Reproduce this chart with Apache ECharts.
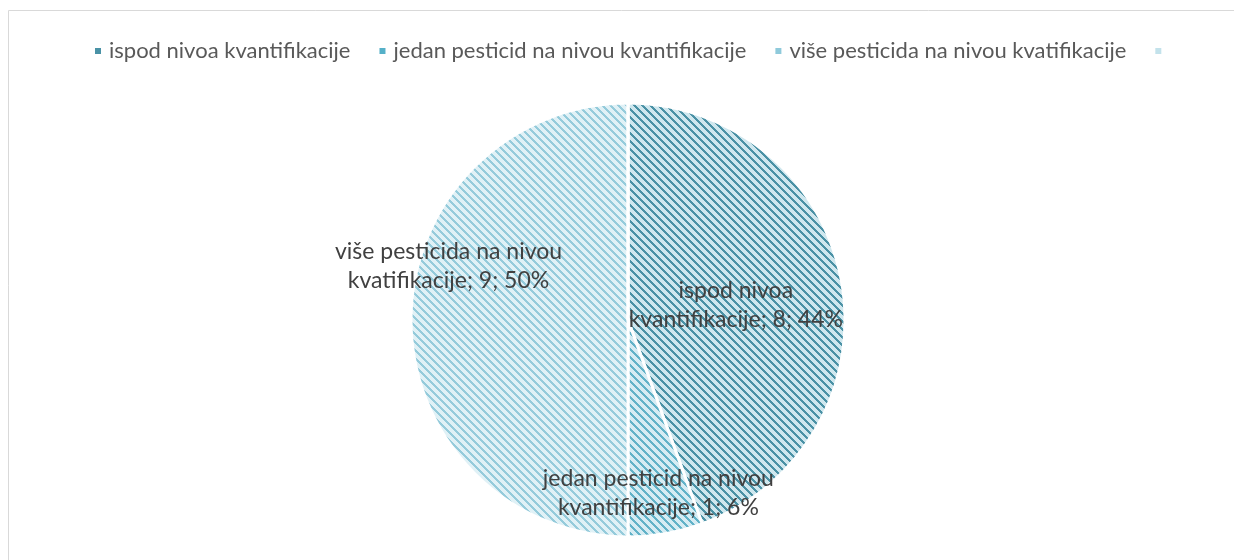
<!DOCTYPE html>
<html lang="sr">
<head>
<meta charset="UTF-8">
<title>Pesticidi</title>
<script src="https://cdn.jsdelivr.net/npm/echarts@6/dist/echarts.min.js"></script>
<style>
  html, body { margin: 0; padding: 0; background: #fff; }
  #main { width: 1234px; height: 560px; }
</style>
</head>
<body>
<div id="main"></div>
<script>
// podaci
var names = ['ispod nivoa kvantifikacije', 'jedan pesticid na nivou kvantifikacije', 'više pesticida na nivou kvatifikacije', ' '];
var values = [8, 1, 9, 0];

// šrafura "\" za svaki segment
function hatch(bg, fg) {
  var n = 8;
  var c = document.createElement('canvas');
  c.width = n; c.height = n;
  var ctx = c.getContext('2d');
  ctx.fillStyle = bg;
  ctx.fillRect(0, 0, n, n);
  ctx.fillStyle = fg;
  for (var y = 0; y < n; y++) {
    for (var x = 0; x < n; x++) {
      var d = ((x - y) % n + n) % n;
      if (d <= 2) ctx.fillRect(x, y, 1, 1);
    }
  }
  return { image: c, repeat: 'repeat' };
}

var fills = [
  hatch('#cfe7ee', '#4a91a5'),
  hatch('#d6ecf3', '#62b2c8'),
  hatch('#e0f1f6', '#95cbdb'),
  hatch('#e6f3f7', '#b7dde8')
];
var legendColors = ['#4a92a6', '#55b0c8', '#8fcadb', '#c3e2eb'];

// pomeranje natpisa (kao u Excelu)
var labelOffsets = [[-2, 4], [11, 63], [-68, -54], [0, 0]];

var myChart = echarts.init(document.getElementById('main'));

var pieData = names.map(function (n, i) {
  return {
    name: n,
    value: values[i],
    itemStyle: { color: fills[i] },
    label: { show: values[i] > 0, offset: labelOffsets[i] }
  };
});

var option = {
  animation: false,
  graphic: [{
    type: 'rect',
    silent: true,
    shape: { x: 8.5, y: 10.5, width: 1240, height: 600 },
    style: { fill: 'none', stroke: '#d9d9d9', lineWidth: 1 }
  }],
  legend: {
    top: 35,
    left: 88,
    icon: 'rect',
    itemWidth: 8,
    itemHeight: 8,
    itemGap: 27,
    textStyle: { fontFamily: 'Lato', fontSize: 22, color: '#595959', padding: [0, 0, 0, 2] },
    data: names.map(function (n, i) {
      return { name: n, itemStyle: { color: legendColors[i] } };
    })
  },
  series: [{
    type: 'pie',
    center: [628, 320],
    radius: 217,
    startAngle: 90,
    clockwise: true,
    stillShowZeroSum: false,
    itemStyle: { borderColor: '#ffffff', borderWidth: 3 },
    label: {
      position: 'inside',
      fontFamily: 'Lato',
      fontSize: 23,
      lineHeight: 29,
      color: '#404040',
      align: 'center',
      formatter: function (p) {
        return p.name.replace(/ (kv\S+)$/, '\n$1') + '; ' + p.value + '; ' + Math.round(p.percent) + '%';
      }
    },
    labelLine: { show: false },
    data: pieData
  }]
};

myChart.setOption(option);
</script>
</body>
</html>
